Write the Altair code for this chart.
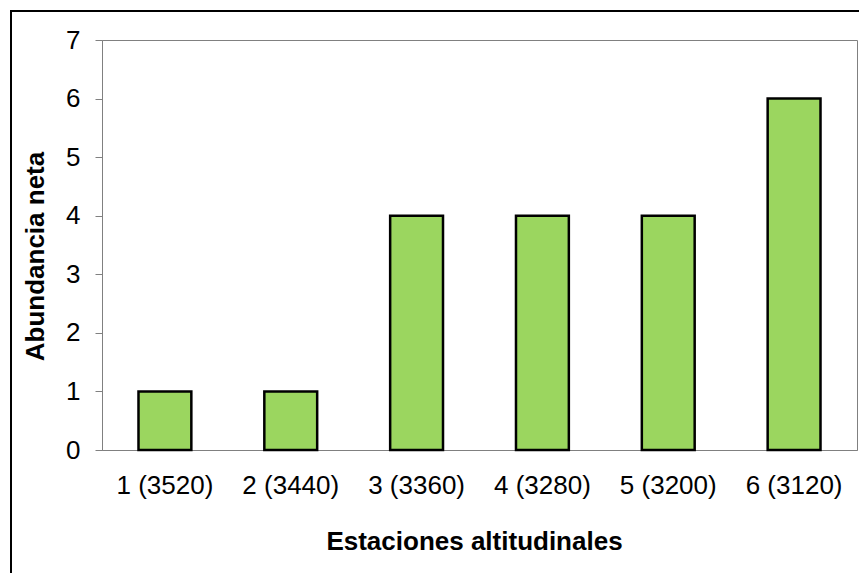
import altair as alt
import pandas as pd

categories = ["1 (3520)", "2 (3440)", "3 (3360)", "4 (3280)", "5 (3200)", "6 (3120)"]
values = [1, 1, 4, 4, 4, 6]
y_ticks = [0, 1, 2, 3, 4, 5, 6, 7]

df = pd.DataFrame({"estacion": categories, "abundancia": values})

FONT = "Liberation Sans"
GRAY = "#808080"

bars = alt.Chart(df).mark_bar(
    fill="#9bd65f", stroke="black", strokeWidth=2.5
).encode(
    x=alt.X("estacion:N", sort=categories,
            scale=alt.Scale(paddingInner=0.58, paddingOuter=0.29),
            axis=alt.Axis(title="Estaciones altitudinales", labelAngle=0, ticks=False,
                          labelPadding=22, titlePadding=30, titleX=372,
                          domainColor=GRAY, labelColor="black", titleColor="black",
                          labelFont=FONT, titleFont=FONT, labelFontSize=26,
                          titleFontSize=26, titleFontWeight="bold")),
    y=alt.Y("abundancia:Q", scale=alt.Scale(domain=[0, 7], nice=False),
            axis=alt.Axis(title="Abundancia neta", values=y_ticks, grid=False,
                          tickSize=7, tickColor=GRAY, domainColor=GRAY,
                          labelPadding=15, titlePadding=17, titleY=216,
                          labelColor="black", titleColor="black",
                          labelFont=FONT, titleFont=FONT, labelFontSize=26,
                          titleFontSize=26, titleFontWeight="bold")),
)

frame = alt.Chart(pd.DataFrame({"k": [0]})).mark_rect(
    fill="transparent", stroke="black", strokeWidth=2
).encode(
    x=alt.value(-91), x2=alt.value(820),
    y=alt.value(-29), y2=alt.value(600),
)

chart = alt.layer(bars, frame).properties(
    width=755, height=410,
    autosize="none",
    padding={"left": 94, "top": 32, "right": 2, "bottom": 123},
).configure_view(stroke=GRAY, strokeWidth=1)

chart.save("out.html", embed_options={"renderer": "svg", "actions": False})
